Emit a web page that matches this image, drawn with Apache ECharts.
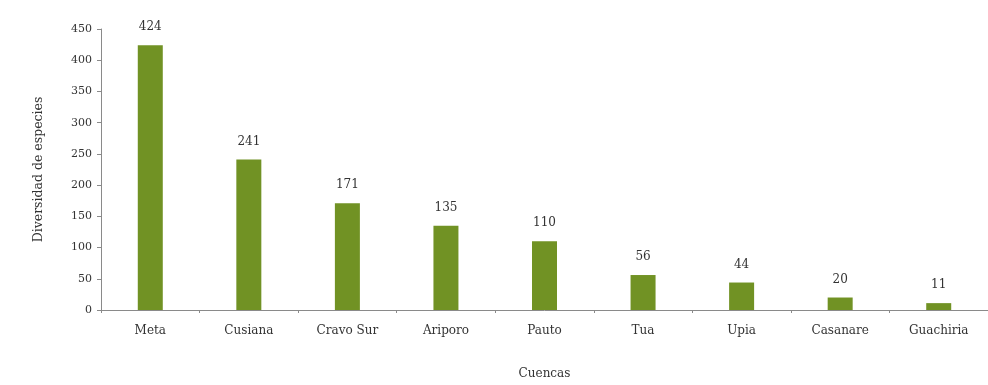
<!DOCTYPE html>
<html>
<head>
<meta charset="utf-8">
<script src="https://cdn.jsdelivr.net/npm/echarts@6/dist/echarts.min.js"></script>
<style>
html,body{margin:0;padding:0;background:#fff;}
#chart{width:988px;height:385px;}
</style>
</head>
<body>
<div id="chart"></div>
<script>
var categories = ['Meta', 'Cusiana', 'Cravo Sur', 'Ariporo', 'Pauto', 'Tua', 'Upia', 'Casanare', 'Guachiria'];
var values = [424, 241, 171, 135, 110, 56, 44, 20, 11];
var yTitle = 'Diversidad de especies';
var xTitle = 'Cuencas';

var font = '"DejaVu Serif", "Liberation Serif", serif';
var chart = echarts.init(document.getElementById('chart'), null, {renderer: 'canvas'});
chart.setOption({
  animation: false,
  backgroundColor: '#ffffff',
  grid: {left: 101, width: 893, top: 29, bottom: 74, containLabel: false},
  xAxis: {
    type: 'category',
    data: categories,
    name: xTitle,
    nameLocation: 'middle',
    nameGap: 58,
    nameTextStyle: {fontFamily: font, fontSize: 12, color: '#333'},
    axisLine: {lineStyle: {color: '#8a8a8a', width: 1}},
    axisTick: {show: true, alignWithLabel: false, length: 3, lineStyle: {color: '#8a8a8a'}},
    axisLabel: {fontFamily: font, fontSize: 12, color: '#333', margin: 15}
  },
  yAxis: {
    type: 'value',
    min: 0, max: 450, interval: 50,
    name: yTitle,
    nameLocation: 'middle',
    nameGap: 56,
    nameRotate: 90,
    nameTextStyle: {fontFamily: font, fontSize: 12.5, color: '#333'},
    axisLine: {show: true, lineStyle: {color: '#8a8a8a', width: 1}},
    axisTick: {show: true, length: 4, lineStyle: {color: '#8a8a8a'}},
    axisLabel: {fontFamily: font, fontSize: 11, color: '#333', margin: 9},
    splitLine: {show: false}
  },
  series: [{
    type: 'bar',
    data: values,
    barWidth: 25,
    itemStyle: {color: '#719224'},
    label: {show: true, position: 'top', distance: 12, fontFamily: font, fontSize: 12, color: '#333'}
  }]
});
</script>
</body>
</html>
